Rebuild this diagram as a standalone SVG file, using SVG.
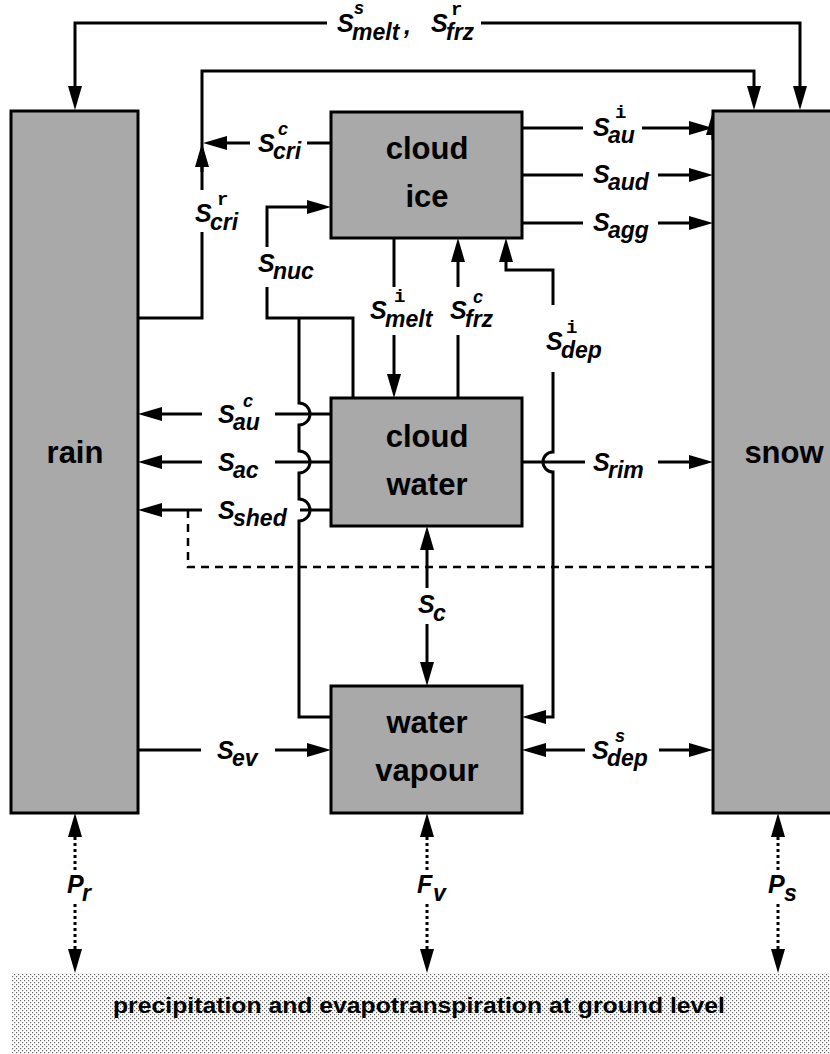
<svg xmlns="http://www.w3.org/2000/svg" width="830" height="1054" viewBox="0 0 830 1054">
<style>
.box{fill:#a9a9a9;stroke:#000;stroke-width:3}
.nl{font-family:"Liberation Sans",Arial,sans-serif;font-weight:bold;font-size:31px;text-anchor:middle;fill:#000}
.ln{fill:none;stroke:#000;stroke-width:3}
.dash{stroke-dasharray:8 6;stroke-width:2.5}
.dot{stroke-dasharray:3 3}
.S{font-family:"Liberation Sans",Arial,sans-serif;font-weight:bold;font-style:italic;font-size:25px;fill:#000}
.sub{font-size:23px}
.sup{font-size:18px}
.supm{font-family:"Liberation Mono","Courier New",monospace;font-weight:bold;font-style:normal;font-size:19px}
.gl{font-family:"Liberation Sans",Arial,sans-serif;font-weight:bold;font-size:22px;fill:#000}
</style>
<defs>
<marker id="ah" markerUnits="userSpaceOnUse" markerWidth="24" markerHeight="14" refX="12" refY="7" orient="auto-start-reverse" viewBox="0 0 24 14">
<path d="M0,0 L24,7 L0,14 z" fill="#000"/>
</marker>
<pattern id="stip" width="4" height="4" patternUnits="userSpaceOnUse">
<rect width="4" height="4" fill="#fff"/>
<rect x="0" y="0" width="1.2" height="1.2" fill="#666"/>
<rect x="2" y="2" width="1.2" height="1.2" fill="#666"/>
</pattern>
</defs>

<g id="ground">
<rect x="12" y="973" width="820" height="83" fill="url(#stip)"/>
<text class="gl" x="113" y="1013" textLength="612" lengthAdjust="spacingAndGlyphs">precipitation and evapotranspiration at ground level</text>
</g>

<g id="connectors">
<path class="ln" d="M327,23 H75 V98" marker-end="url(#ah)"/>
<path class="ln" d="M481,23 H800 V98" marker-end="url(#ah)"/>
<path class="ln" d="M138,318 H202 V232"/>
<path class="ln" d="M202,190 V71 H754 V98" marker-end="url(#ah)"/>
<path class="ln" d="M202,172 V155" marker-end="url(#ah)"/>
<path class="ln" d="M331,143 H307"/>
<path class="ln" d="M250,143 H215" marker-end="url(#ah)"/>
<path class="ln" d="M267,247 V207 H319" marker-end="url(#ah)"/>
<path class="ln" d="M267,287 V318 H353 V398"/>
<path class="ln" d="M299,318 V403 A11,11 0 0 1 299,425 V451 A11,11 0 0 1 299,473 V499 A11,11 0 0 1 299,521 V717 H331"/>
<path class="ln" d="M394,238 V287"/>
<path class="ln" d="M394,335 V386" marker-end="url(#ah)"/>
<path class="ln" d="M458,398 V335"/>
<path class="ln" d="M458,287 V250" marker-end="url(#ah)"/>
<path class="ln" d="M506,250 V270 H553 V305" marker-start="url(#ah)"/>
<path class="ln" d="M553,372 V452 A10,10 0 0 0 553,472 V717 H534" marker-end="url(#ah)"/>
<path class="ln" d="M331,414 H275"/>
<path class="ln" d="M202,414 H150" marker-end="url(#ah)"/>
<path class="ln" d="M331,462 H275"/>
<path class="ln" d="M202,462 H150" marker-end="url(#ah)"/>
<path class="ln" d="M331,510 H300"/>
<path class="ln" d="M202,510 H150" marker-end="url(#ah)"/>
<path class="ln dash" d="M188,510 V567 H713"/>
<path class="ln" d="M522,128 H583"/>
<path class="ln" d="M642,128 H701" marker-end="url(#ah)"/>
<path class="ln" d="M522,175 H583"/>
<path class="ln" d="M658,175 H701" marker-end="url(#ah)"/>
<path class="ln" d="M522,223 H583"/>
<path class="ln" d="M658,223 H701" marker-end="url(#ah)"/>
<path class="ln" d="M713,140 V123" marker-end="url(#ah)"/>
<path class="ln" d="M522,462 H585"/>
<path class="ln" d="M658,462 H701" marker-end="url(#ah)"/>
<path class="ln" d="M427,538 V588" marker-start="url(#ah)"/>
<path class="ln" d="M427,624 V674" marker-end="url(#ah)"/>
<path class="ln" d="M138,750 H201"/>
<path class="ln" d="M275,750 H319" marker-end="url(#ah)"/>
<path class="ln" d="M534,750 H585" marker-start="url(#ah)"/>
<path class="ln" d="M659,750 H701" marker-end="url(#ah)"/>
<path class="ln dot" d="M75,825 V870" marker-start="url(#ah)"/>
<path class="ln dot" d="M75,904 V961" marker-end="url(#ah)"/>
<path class="ln dot" d="M427,825 V870" marker-start="url(#ah)"/>
<path class="ln dot" d="M427,904 V961" marker-end="url(#ah)"/>
<path class="ln dot" d="M778,825 V870" marker-start="url(#ah)"/>
<path class="ln dot" d="M778,904 V961" marker-end="url(#ah)"/>
</g>

<g id="labels">
<text class="S" x="337" y="32">S<tspan class="sub" x="352" y="40">melt</tspan><tspan class="sup" x="354" y="14">s</tspan><tspan x="404" y="34">,</tspan></text>
<text class="S" x="431" y="32">S<tspan class="sub" x="446" y="40">frz</tspan><tspan class="supm" x="451" y="15">r</tspan></text>
<text class="S" x="258" y="152">S<tspan class="sub" x="273" y="159">cri</tspan><tspan class="sup" x="278" y="135">c</tspan></text>
<text class="S" x="195" y="222">S<tspan class="sub" x="210" y="230">cri</tspan><tspan class="supm" x="217" y="205">r</tspan></text>
<text class="S" x="258" y="272">S<tspan class="sub" x="273" y="279">nuc</tspan></text>
<text class="S" x="370" y="319">S<tspan class="sub" x="385" y="327">melt</tspan><tspan class="supm" x="394" y="302">i</tspan></text>
<text class="S" x="450" y="319">S<tspan class="sub" x="465" y="327">frz</tspan><tspan class="sup" x="473" y="303">c</tspan></text>
<text class="S" x="546" y="350">S<tspan class="sub" x="561" y="358">dep</tspan><tspan class="supm" x="566" y="333">i</tspan></text>
<text class="S" x="218" y="423">S<tspan class="sub" x="233" y="430">au</tspan><tspan class="sup" x="243" y="407">c</tspan></text>
<text class="S" x="218" y="471">S<tspan class="sub" x="233" y="478">ac</tspan></text>
<text class="S" x="218" y="519">S<tspan class="sub" x="233" y="526">shed</tspan></text>
<text class="S" x="593" y="136">S<tspan class="sub" x="608" y="143">au</tspan><tspan class="supm" x="615" y="118">i</tspan></text>
<text class="S" x="593" y="183">S<tspan class="sub" x="608" y="190">aud</tspan></text>
<text class="S" x="593" y="231">S<tspan class="sub" x="608" y="238">agg</tspan></text>
<text class="S" x="593" y="471">S<tspan class="sub" x="608" y="478">rim</tspan></text>
<text class="S" x="418" y="613">S<tspan class="sub" x="433" y="621">c</tspan></text>
<text class="S" x="217" y="759">S<tspan class="sub" x="232" y="766">ev</tspan></text>
<text class="S" x="592" y="759">S<tspan class="sub" x="607" y="766">dep</tspan><tspan class="sup" x="615" y="742">s</tspan></text>
<text class="S" x="67" y="893">P<tspan class="sub" x="82" y="901">r</tspan></text>
<text class="S" x="417" y="893">F<tspan class="sub" x="433" y="901">v</tspan></text>
<text class="S" x="768" y="893">P<tspan class="sub" x="784" y="901">s</tspan></text>
</g>

<g id="rain">
<rect class="box" x="11" y="111" width="127" height="702"/>
<text class="nl" x="75" y="463">rain</text>
</g>
<g id="snow">
<rect class="box" x="713" y="111" width="125" height="702"/>
<text class="nl" x="784" y="463">snow</text>
</g>
<g id="cloud-ice">
<rect class="box" x="331" y="112" width="191" height="126"/>
<text class="nl" x="427" y="159">cloud</text>
<text class="nl" x="427" y="207">ice</text>
</g>
<g id="cloud-water">
<rect class="box" x="331" y="398" width="191" height="128"/>
<text class="nl" x="427" y="447">cloud</text>
<text class="nl" x="427" y="495">water</text>
</g>
<g id="water-vapour">
<rect class="box" x="331" y="686" width="191" height="127"/>
<text class="nl" x="427" y="733">water</text>
<text class="nl" x="427" y="781">vapour</text>
</g>
</svg>
